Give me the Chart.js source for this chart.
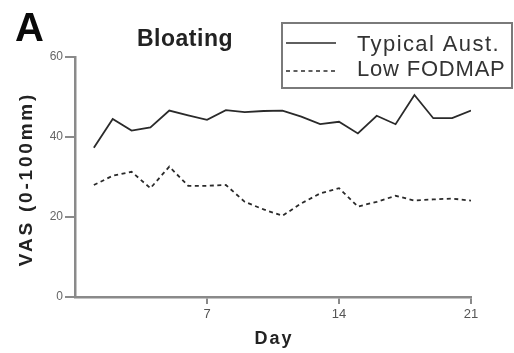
<!DOCTYPE html>
<html>
<head>
<meta charset="utf-8">
<script src="https://cdn.jsdelivr.net/npm/chart.js@4.4.0/dist/chart.umd.min.js"></script>
<style>
html,body{margin:0;padding:0;background:#fff;}
#wrap{width:514px;height:353px;position:relative;}
</style>
</head>
<body>
<div id="wrap"><canvas id="c" width="514" height="353"></canvas></div>
<script>
const days = [1,2,3,4,5,6,7,8,9,10,11,12,13,14,15,16,17,18,19,20,21];
const typicalAust = [37.3,44.5,41.6,42.4,46.6,45.4,44.3,46.7,46.2,46.5,46.6,45.1,43.2,43.8,40.9,45.3,43.2,50.5,44.7,44.7,46.6];
const lowFodmap = [28,30.3,31.3,27.2,32.6,27.8,27.8,28,23.8,21.9,20.3,23.4,25.9,27.2,22.6,23.8,25.3,24.1,24.4,24.6,24.1];
const xTicks = [7,14,21];
const yTicks = [0,20,40,60];
const seriesLabels = ['Typical Aust.','Low FODMAP'];
const panelLetter = 'A';
const chartTitle = 'Bloating';
const xTitle = 'Day';
const yTitle = 'VAS (0-100mm)';

const axisGray = '#8a8a8a';
const lineColor = '#2a2a2a';
const FONT = 'Liberation Sans, Arial, Helvetica, sans-serif';

const decor = {
  id:'decor',
  afterDraw(chart){
    const ctx = chart.ctx;
    const ca = chart.chartArea;
    ctx.save();
    ctx.textBaseline = 'alphabetic';
    ctx.textAlign = 'left';
    // panel letter
    ctx.fillStyle = '#0a0a0a';
    ctx.font = 'bold 40px ' + FONT;
    ctx.fillText(panelLetter, 15, 41);
    // title
    ctx.font = 'bold 23px ' + FONT;
    ctx.fillStyle = '#222';
    ctx.letterSpacing = '0.5px';
    ctx.fillText(chartTitle, 137, 46);
    // x title
    ctx.textAlign = 'center';
    ctx.font = 'bold 18px ' + FONT;
    ctx.letterSpacing = '2px';
    ctx.fillText(xTitle, 274, 344);
    // y title
    ctx.save();
    ctx.translate(32, 179);
    ctx.rotate(-Math.PI / 2);
    ctx.font = 'bold 19px ' + FONT;
    ctx.letterSpacing = '2.8px';
    ctx.fillText(yTitle, 0, 0);
    ctx.restore();
    // legend box
    ctx.textAlign = 'left';
    ctx.strokeStyle = '#7a7a7a';
    ctx.lineWidth = 2;
    ctx.letterSpacing = '0px';
    ctx.strokeRect(282, 23, 230, 65);
    const items = chart.data.datasets;
    const rows = [43, 71];
    items.forEach((ds, i) => {
      const y = rows[i];
      ctx.beginPath();
      ctx.strokeStyle = lineColor;
      ctx.lineWidth = 1.6;
      ctx.setLineDash(ds.borderDash || []);
      ctx.moveTo(286, y);
      ctx.lineTo(336, y);
      ctx.stroke();
      ctx.setLineDash([]);
      ctx.fillStyle = '#333';
      ctx.font = '22px ' + FONT;
      ctx.letterSpacing = i === 0 ? '1.4px' : '0.8px';
      ctx.textBaseline = 'alphabetic';
      ctx.fillText(ds.label, 357, i === 0 ? 51 : 76);
    });
    ctx.restore();
  }
};

new Chart(document.getElementById('c'), {
  type:'line',
  data:{
    datasets:[
      {label:seriesLabels[0], data:days.map((d,i)=>({x:d,y:typicalAust[i]})), borderColor:lineColor, borderWidth:1.8, pointRadius:0, tension:0, fill:false},
      {label:seriesLabels[1], data:days.map((d,i)=>({x:d,y:lowFodmap[i]})), borderColor:lineColor, borderWidth:1.8, borderDash:[4,3.5], pointRadius:0, tension:0, fill:false}
    ]
  },
  options:{
    responsive:false,
    animation:false,
    layout:{padding:{top:57,right:43,left:0,bottom:0}},
    plugins:{legend:{display:false},title:{display:false},tooltip:{enabled:false}},
    scales:{
      x:{
        type:'linear', min:0, max:21,
        afterBuildTicks(s){ s.ticks = xTicks.map(v=>({value:v})); },
        afterFit(s){ s.height = 56; },
        grid:{drawOnChartArea:false, drawTicks:true, tickLength:7, color:axisGray, lineWidth:2},
        border:{display:true, color:axisGray, width:2.5},
        ticks:{color:'#555', font:{size:13, family:FONT}, padding:3, maxRotation:0}
      },
      y:{
        min:0, max:60,
        afterBuildTicks(s){ s.ticks = yTicks.map(v=>({value:v})); },
        afterFit(s){ s.width = 75; },
        grid:{drawOnChartArea:false, drawTicks:true, tickLength:10, color:axisGray, lineWidth:2},
        border:{display:true, color:axisGray, width:2.5},
        ticks:{color:'#666', font:{size:12, family:FONT}, padding:2}
      }
    }
  },
  plugins:[decor]
});
</script>
</body>
</html>
